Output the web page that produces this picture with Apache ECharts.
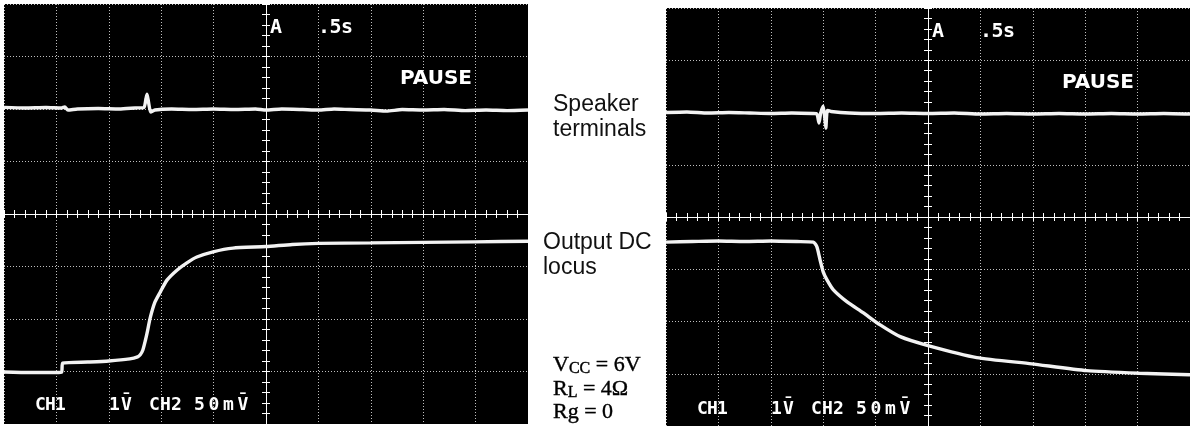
<!DOCTYPE html>
<html>
<head>
<meta charset="utf-8">
<script src="https://cdn.jsdelivr.net/npm/echarts@6/dist/echarts.min.js"></script>
<style>html,body{margin:0;padding:0;background:#fff;}#c{width:1190px;height:428px;}</style>
</head>
<body>
<div id="c"></div>
<script>
// Division coordinates (x: -5..5, y: -4..4)
const leftSpeaker = [[-5,2.03],[-4.6,2.02],[-4.2,2.03],[-3.9,2.02],[-3.84,2.04],[-3.78,1.98],[-3.6,2.0],[-3.2,2.01],[-2.8,2.0],[-2.5,2.02],[-2.33,2.03],[-2.29,2.2],[-2.27,2.28],[-2.24,2.12],[-2.2,1.94],[-2.12,1.98],[-1.8,2.0],[-1.4,1.99],[-1.0,2.0],[-0.6,1.99],[-0.2,2.0],[0.0,1.98],[0.3,2.0],[0.7,1.99],[1.0,1.98],[1.3,2.0],[1.6,1.99],[2.0,1.98],[2.3,1.96],[2.6,1.99],[3.0,1.98],[3.4,1.99],[3.8,1.97],[4.2,1.98],[4.6,1.97],[5,1.98]];
const leftOutput = [[-5,-3.01],[-4.5,-3.02],[-4.0,-3.02],[-3.9,-3.01],[-3.88,-2.84],[-3.4,-2.82],[-3.0,-2.8],[-2.6,-2.76],[-2.45,-2.72],[-2.4,-2.68],[-2.35,-2.59],[-2.3,-2.4],[-2.27,-2.27],[-2.21,-1.98],[-2.12,-1.68],[-2.02,-1.49],[-1.89,-1.26],[-1.7,-1.07],[-1.51,-0.93],[-1.32,-0.82],[-1.01,-0.72],[-0.63,-0.65],[0,-0.62],[0.5,-0.58],[1.0,-0.56],[2,-0.55],[3,-0.54],[4,-0.53],[5,-0.52]];
const rightSpeaker = [[-5,2.0],[-4.6,2.01],[-4.2,1.99],[-3.8,2.0],[-3.4,1.99],[-3.0,1.98],[-2.6,1.99],[-2.2,1.98],[-2.12,1.97],[-2.08,1.8],[-2.05,1.98],[-2.0,2.12],[-1.97,1.9],[-1.95,1.7],[-1.92,2.04],[-1.85,2.02],[-1.5,1.99],[-1.0,1.98],[-0.5,1.99],[0,1.98],[0.5,1.99],[1.0,1.97],[1.5,1.98],[2.0,1.97],[2.5,1.98],[3.0,1.97],[3.5,1.98],[4.0,1.97],[4.5,1.98],[5,1.97]];
const rightOutput = [[-5,-0.48],[-4.5,-0.47],[-4,-0.46],[-3.5,-0.47],[-3,-0.46],[-2.5,-0.47],[-2.19,-0.48],[-2.12,-0.57],[-2.06,-0.82],[-2.0,-1.05],[-1.93,-1.2],[-1.81,-1.39],[-1.55,-1.62],[-1.24,-1.83],[-0.92,-2.06],[-0.53,-2.29],[0,-2.46],[0.93,-2.69],[1.98,-2.81],[3.03,-2.94],[4.03,-2.99],[5,-3.02]];
const traceLabels = ['Speaker', 'terminals', 'Output DC', 'locus'];
const scopeTop = ['A', '.5s', 'PAUSE'];
const scopeBottom = ['CH1', '1V\u0304', 'CH2', '50mV\u0304'];

const chart = echarts.init(document.getElementById('c'), null, {renderer: 'canvas'});
const gridLine = {color: 'rgba(255,255,255,0.75)', width: 1, type: [1, 2]};
function xAx(g, pos, main) {
  return {type: 'value', gridIndex: g, min: -5, max: 5, interval: 1, position: pos,
    axisLine: {show: true, onZero: true, lineStyle: {color: 'rgba(255,255,255,0.85)', width: 1}},
    axisTick: {show: true, inside: true, length: 4, lineStyle: {color: '#fff'}},
    minorTick: {show: true, splitNumber: 5, length: 4, lineStyle: {color: '#fff'}},
    axisLabel: {show: false}, splitLine: {show: main, lineStyle: gridLine}};
}
function yAx(g, pos, main) {
  return {type: 'value', gridIndex: g, min: -4, max: 4, interval: 1, position: pos,
    axisLine: {show: true, onZero: true, lineStyle: {color: 'rgba(255,255,255,0.85)', width: 1}},
    axisTick: {show: true, inside: true, length: 4, lineStyle: {color: '#fff'}},
    minorTick: {show: true, splitNumber: 5, length: 4, lineStyle: {color: '#fff'}},
    axisLabel: {show: false}, splitLine: {show: main, lineStyle: gridLine}};
}
function trace(data, xi, yi) {
  return {type: 'line', data: data, xAxisIndex: xi, yAxisIndex: yi, showSymbol: false, smooth: 0.2,
    lineStyle: {color: '#f2f2f2', width: 3.4}, silent: true, animation: false, z: 5};
}
const scopeFont = 'bold 18px "DejaVu Sans Mono"';
function txt(t, x, y, font, fill) {
  return {type: 'text', x: x, y: y, z: 100, style: {text: t, font: font, fill: fill || '#fff', verticalAlign: 'middle', align: 'left'}};
}
function spaced(t, x, y, pitch, font) {
  const out = [];
  Array.from(t.normalize('NFD').match(/.\p{M}*/gu)).forEach((ch, i) => out.push(txt(ch, x + i * pitch, y, font)));
  return out;
}
function scopeTexts(ox, oy) {
  return [].concat(
    txt(scopeTop[0], ox + 4, oy + 24, 'bold 20px "DejaVu Sans Mono"'),
    spaced(scopeTop[1], ox + 52, oy + 24, 11.5, 'bold 20px "DejaVu Sans Mono"'),
    txt(scopeTop[2], ox + 134, oy + 75, 'bold 20px "DejaVu Sans"'),
    spaced(scopeBottom[0], ox - 231, oy + 401, 10, scopeFont),
    spaced(scopeBottom[1], ox - 157, oy + 401, 12, scopeFont),
    spaced(scopeBottom[2], ox - 117, oy + 401, 11, scopeFont),
    spaced(scopeBottom[3], ox - 72, oy + 401, 14.5, scopeFont)
  );
}
const sans = '23px "Liberation Sans"';
const serif = {fontFamily: 'Liberation Serif', fontSize: 22, fill: '#000', stroke: '#000', lineWidth: 0.4};
const sub = Object.assign({}, serif, {fontSize: 16, verticalAlign: 'bottom', lineHeight: 24});
const base = Object.assign({}, serif, {lineHeight: 24});
const graphics = [].concat(
  scopeTexts(266, 4),
  scopeTexts(928, 8),
  txt(traceLabels[0], 553, 105, sans, '#111'),
  txt(traceLabels[1], 553, 130, sans, '#111'),
  txt(traceLabels[2], 543, 243, sans, '#111'),
  txt(traceLabels[3], 543, 268, sans, '#111'),
  [{type: 'text', x: 553, y: 365, z: 100, style: {text: '{a|V}{b|CC}{a| = 6V}', verticalAlign: 'middle', rich: {a: base, b: sub}}},
   {type: 'text', x: 553, y: 389, z: 100, style: {text: '{a|R}{b|L}{a| = 4Ω}', verticalAlign: 'middle', rich: {a: base, b: sub}}},
   {type: 'text', x: 553, y: 412, z: 100, style: {text: '{a|Rg = 0}', verticalAlign: 'middle', rich: {a: base}}}]
);
chart.setOption({
  backgroundColor: '#fff',
  animation: false,
  grid: [
    {left: 4, top: 4, width: 524, height: 420, show: true, backgroundColor: '#000', borderWidth: 0},
    {left: 666, top: 8, width: 524, height: 418, show: true, backgroundColor: '#000', borderWidth: 0}
  ],
  xAxis: [xAx(0, 'bottom', true), xAx(0, 'top', false), xAx(1, 'bottom', true), xAx(1, 'top', false)],
  yAxis: [yAx(0, 'left', true), yAx(0, 'right', false), yAx(1, 'left', true), yAx(1, 'right', false)],
  series: [trace(leftSpeaker, 0, 0), trace(leftOutput, 0, 0), trace(rightSpeaker, 2, 2), trace(rightOutput, 2, 2)],
  graphic: graphics
});
</script>
</body>
</html>
